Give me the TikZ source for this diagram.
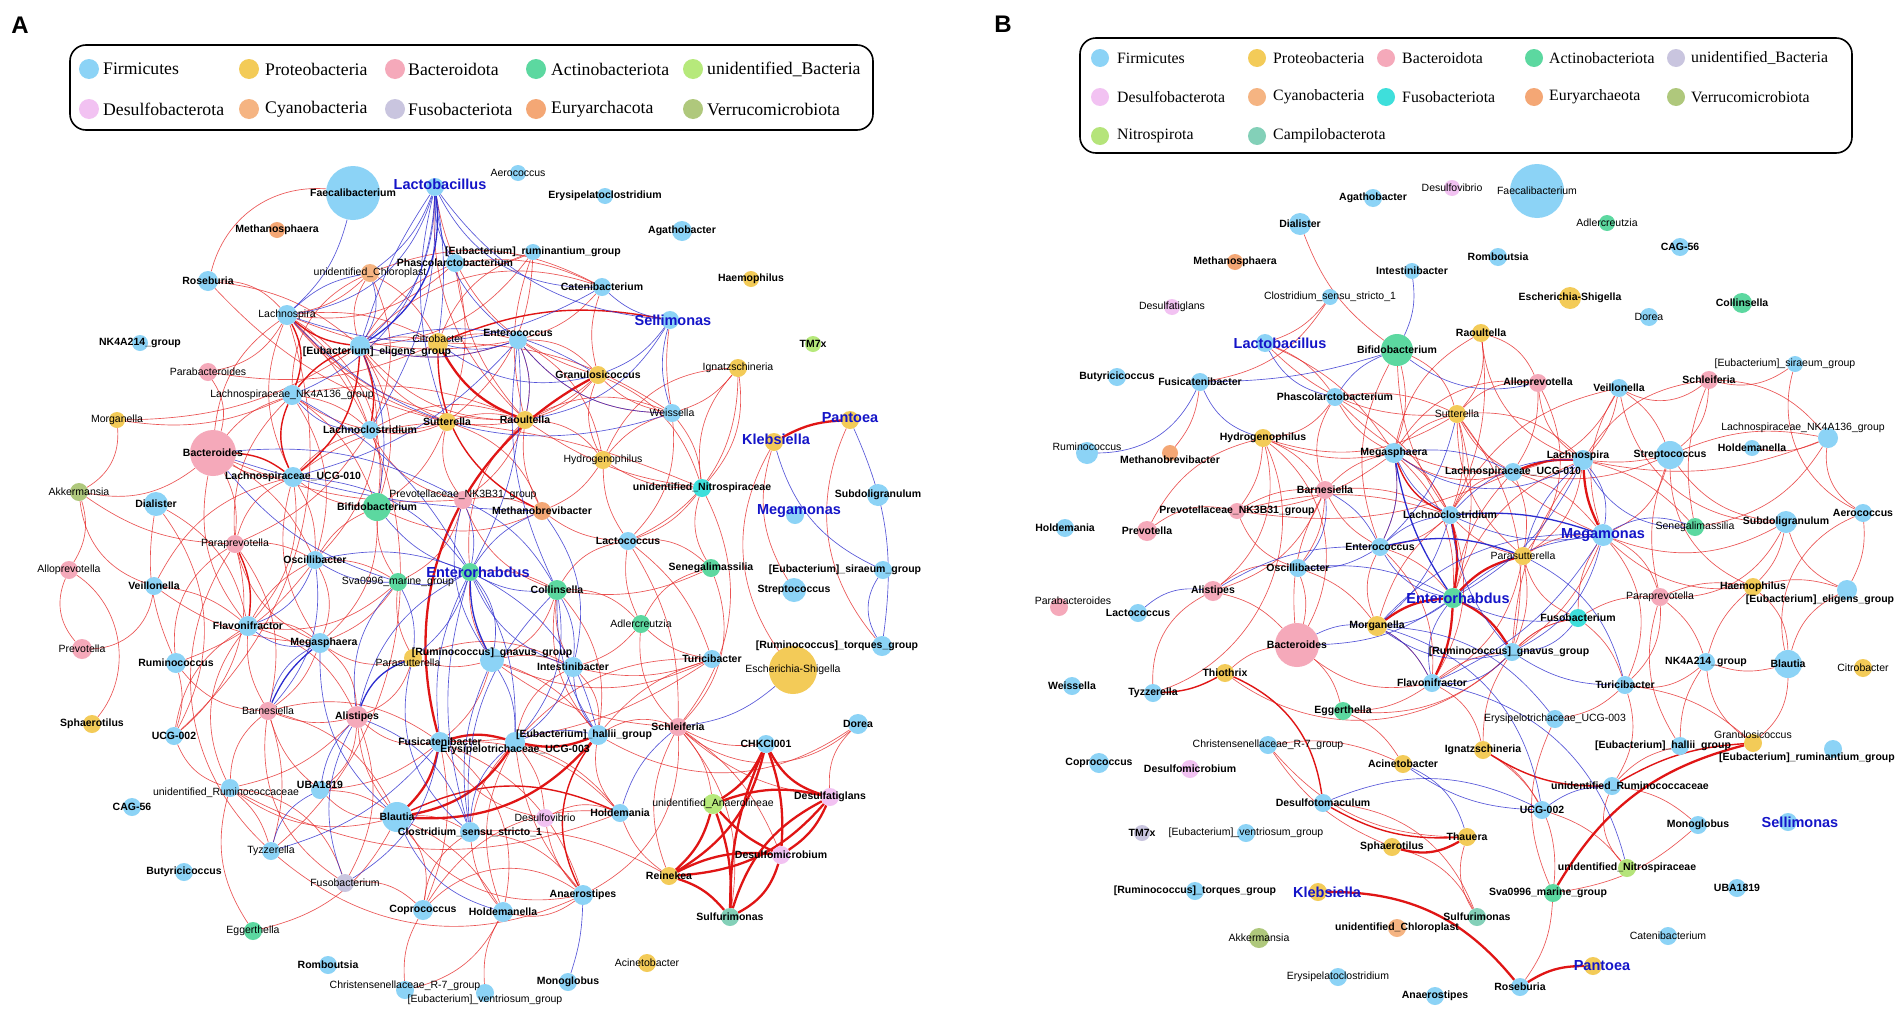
\documentclass[tikz,border=0pt]{standalone}
\usepackage{fontspec}
\setmainfont{Liberation Serif}
\newfontfamily\lsans{Liberation Sans}
\pgfdeclarelayer{bg}\pgfdeclarelayer{edges}\pgfdeclarelayer{labels}
\pgfsetlayers{bg,edges,main,labels}
\definecolor{cFir}{HTML}{8CD3F6}
\definecolor{cPro}{HTML}{F3CB58}
\definecolor{cBac}{HTML}{F5A9BA}
\definecolor{cAct}{HTML}{5CD8A0}
\definecolor{cUnb}{HTML}{B6E97B}
\definecolor{cDes}{HTML}{F2C2F2}
\definecolor{cCya}{HTML}{F5B482}
\definecolor{cFusA}{HTML}{C9C5DF}
\definecolor{cEur}{HTML}{F4A775}
\definecolor{cVer}{HTML}{AFC87C}
\definecolor{cCyan}{HTML}{3EDFDB}
\definecolor{cNit}{HTML}{B5E47A}
\definecolor{cCam}{HTML}{83D0B8}
\definecolor{cRed}{HTML}{E62A2A}
\definecolor{cRedT}{HTML}{E01515}
\definecolor{cBlue}{HTML}{2B2BCF}
\definecolor{cBlueLab}{HTML}{1414C8}
\tikzset{
 dot/.style={circle,draw=none,inner sep=0pt},
 lb/.style={font=\lsans\bfseries\fontsize{10.5}{12}\selectfont,inner sep=0pt},
 lr/.style={font=\lsans\fontsize{10.5}{12}\selectfont,inner sep=0pt},
 lblue/.style={font=\lsans\bfseries\fontsize{14.5}{16}\selectfont,text=cBlueLab,inner sep=0pt},
 er/.style={draw=cRed,line width=0.65pt,opacity=0.8},
 erm/.style={draw=cRedT,line width=1.4pt},
 ert/.style={draw=cRedT,line width=2.3pt},
 eb/.style={draw=cBlue,line width=0.65pt,opacity=0.8},
 ebm/.style={draw=cBlue,line width=1.3pt},
 legtxt/.style={font=\fontsize{17.7}{20}\selectfont,anchor=west,inner sep=0pt},
 legtxtB/.style={font=\fontsize{15.8}{18}\selectfont,anchor=west,inner sep=0pt},
 legdot/.style={circle,draw=none,inner sep=0pt,minimum size=20pt},
 legdotB/.style={circle,draw=none,inner sep=0pt,minimum size=18pt},
 legbox/.style={draw=black,line width=1.6pt,rounded corners=16pt},
 panel/.style={font=\lsans\bfseries\fontsize{24}{26}\selectfont,inner sep=0pt}
}
\newcommand{\nd}[7]{%
 \node[dot,fill=#4,minimum size=#5pt] (#1) at (#2,#3) {};
 \begin{pgfonlayer}{labels}\node[#6] (#1L) at (#2,#3) {#7};\end{pgfonlayer}}
\newcommand{\edges}[2]{\foreach \a/\b/\c in {#2}{\pgfmathsetmacro\cc{1.6*\c}\draw[#1] (\a) to[bend left=\cc] (\b);}}
\begin{document}
\begin{tikzpicture}[x=1pt,y=-1pt]
\begin{pgfonlayer}{bg}\fill[white] (0,0) rectangle (1904,1012);\end{pgfonlayer}
\useasboundingbox (0,0) rectangle (1904,1012);
\node[panel] (pA) at (20,25) {A};
\node[panel] (pB) at (1003,24) {B};
% legend A
\draw[legbox] (70,45) rectangle (873,130);
\foreach \x/\tx/\y/\c/\t [count=\i] in {
 89/103/69/cFir/Firmicutes, 249/265/69/cPro/Proteobacteria, 395/408/69/cBac/Bacteroidota, 536/551/69/cAct/Actinobacteriota, 693/707/69/cUnb/unidentified\_Bacteria,
 89/103/109/cDes/Desulfobacterota, 249/265/109/cCya/Cyanobacteria, 395/408/109/cFusA/Fusobacteriota, 536/551/109/cEur/Euryarchacota, 693/707/109/cVer/Verrucomicrobiota}
 {\node[legdot,fill=\c] (lAd\i) at (\x,\y) {}; \node[legtxt] (lAt\i) at (\tx,\y) {\t};}
% legend B
\draw[legbox] (1080,38) rectangle (1852,153);
\foreach \x/\tx/\y/\c/\t [count=\i] in {
 1100/1117/58/cFir/Firmicutes, 1257/1273/58/cPro/Proteobacteria, 1386/1402/58/cBac/Bacteroidota, 1534/1549/58/cAct/Actinobacteriota, 1676/1691/58/cFusA/unidentified\_Bacteria,
 1100/1117/97/cDes/Desulfobacterota, 1257/1273/97/cCya/Cyanobacteria, 1386/1402/97/cCyan/Fusobacteriota, 1534/1549/97/cEur/Euryarchaeota, 1676/1691/97/cVer/Verrucomicrobiota,
 1100/1117/136/cNit/Nitrospirota, 1257/1273/136/cCam/Campilobacterota}
 {\node[legdotB,fill=\c] (lBd\i) at (\x,\y) {}; \node[legtxtB] (lBt\i) at (\tx,\y) {\t};}
% ---------------- panel A nodes
\nd{aFaec}{353}{193}{cFir}{54}{lb}{Faecalibacterium}
\nd{aLact}{435}{187}{cFir}{18}{lblue,xshift=5pt,yshift=3pt}{Lactobacillus}
\nd{aAero}{518}{173}{cFir}{16}{lr}{Aerococcus}
\nd{aErys}{605}{196}{cFir}{16}{lb}{Erysipelatoclostridium}
\nd{aMsph}{277}{230}{cEur}{16}{lb}{Methanosphaera}
\nd{aAgat}{682}{231}{cFir}{20}{lb}{Agathobacter}
\nd{aRumi}{533}{252}{cFir}{16}{lb}{[Eubacterium]\_ruminantium\_group}
\nd{aPhas}{455}{263}{cFir}{18}{lb}{Phascolarctobacterium}
\nd{aChlo}{370}{273}{cCya}{18}{lr}{unidentified\_Chloroplast}
\nd{aRose}{208}{281}{cFir}{20}{lb}{Roseburia}
\nd{aCate}{602}{287}{cFir}{18}{lb}{Catenibacterium}
\nd{aHaem}{751}{279}{cPro}{16}{lb}{Haemophilus}
\nd{aLspi}{287}{315}{cFir}{20}{lr}{Lachnospira}
\nd{aSell}{670}{320}{cFir}{18}{lblue,xshift=3pt}{Sellimonas}
\nd{aCitr}{438}{343}{cPro}{20}{lr,yshift=4pt}{Citrobacter}
\nd{aEnte}{518}{340}{cFir}{18}{lb,yshift=7pt}{Enterococcus}
\nd{aNK42}{140}{343}{cFir}{16}{lb}{NK4A214\_group}
\nd{aTM7}{813}{344}{cUnb}{16}{lb}{TM7x}
\nd{aElig}{360}{346}{cFir}{20}{lb,xshift=17pt,yshift=-6pt}{[Eubacterium]\_eligens\_group}
\nd{aPara}{208}{372}{cBac}{18}{lr}{Parabacteroides}
\nd{aGran}{598}{375}{cPro}{18}{lb}{Granulosicoccus}
\nd{aIgna}{738}{368}{cPro}{18}{lr}{Ignatzschineria}
\nd{aNK41}{292}{395}{cFir}{20}{lr}{Lachnospiraceae\_NK4A136\_group}
\nd{aWeis}{672}{413}{cFir}{18}{lr}{Weissella}
\nd{aMorg}{117}{420}{cPro}{16}{lr}{Morganella}
\nd{aSutt}{447}{422}{cPro}{18}{lb}{Sutterella}
\nd{aRaou}{525}{420}{cPro}{18}{lb}{Raoultella}
\nd{aPant}{850}{420}{cPro}{18}{lblue,yshift=2pt}{Pantoea}
\nd{aLcl}{370}{430}{cFir}{18}{lb}{Lachnoclostridium}
\nd{aKleb}{774}{442}{cPro}{18}{lblue,xshift=2pt,yshift=3pt}{Klebsiella}
\nd{aBact}{213}{453}{cBac}{46}{lb}{Bacteroides}
\nd{aHydr}{603}{460}{cPro}{18}{lr}{Hydrogenophilus}
\nd{aAkke}{79}{492}{cVer}{18}{lr}{Akkermansia}
\nd{aU010}{293}{477}{cFir}{20}{lb}{Lachnospiraceae\_UCG-010}
\nd{aDial}{156}{504}{cFir}{24}{lb}{Dialister}
\nd{aNK3B}{463}{500}{cBac}{18}{lr,yshift=5pt}{Prevotellaceae\_NK3B31\_group}
\nd{aBifi}{377}{507}{cAct}{28}{lb}{Bifidobacterium}
\nd{aMbre}{542}{511}{cEur}{18}{lb}{Methanobrevibacter}
\nd{aNitr}{702}{488}{cCyan}{18}{lb}{unidentified\_Nitrospiraceae}
\nd{aSubd}{878}{495}{cFir}{22}{lb}{Subdoligranulum}
\nd{aMega}{795}{515}{cFir}{18}{lblue,xshift=4pt,yshift=4pt}{Megamonas}
\nd{aAllo}{69}{570}{cBac}{18}{lr}{Alloprevotella}
\nd{aPpre}{235}{544}{cBac}{18}{lr}{Paraprevotella}
\nd{aOsci}{315}{560}{cFir}{18}{lb}{Oscillibacter}
\nd{aEnrh}{470}{572}{cAct}{18}{lblue,xshift=8pt}{Enterorhabdus}
\nd{aLcoc}{628}{541}{cFir}{18}{lb}{Lactococcus}
\nd{aSene}{711}{568}{cAct}{18}{lb}{Senegalimassilia}
\nd{aSira}{883}{570}{cFir}{18}{lb,xshift=-38pt}{[Eubacterium]\_siraeum\_group}
\nd{aVeil}{154}{586}{cFir}{18}{lb}{Veillonella}
\nd{aSva}{398}{582}{cAct}{18}{lr}{Sva0996\_marine\_group}
\nd{aColl}{557}{590}{cAct}{20}{lb}{Collinsella}
\nd{aStre}{794}{590}{cFir}{24}{lb}{Streptococcus}
\nd{aFlav}{248}{626}{cFir}{20}{lb}{Flavonifractor}
\nd{aMsp}{320}{643}{cFir}{20}{lb,xshift=4pt}{Megasphaera}
\nd{aAdle}{641}{624}{cAct}{18}{lr}{Adlercreutzia}
\nd{aPrev}{82}{649}{cBac}{20}{lr}{Prevotella}
\nd{aRumc}{176}{663}{cFir}{20}{lb}{Ruminococcus}
\nd{aGnav}{492}{660}{cFir}{24}{lb,yshift=7pt}{[Ruminococcus]\_gnavus\_group}
\nd{aPsut}{413}{658}{cPro}{18}{lr,xshift=-5pt,yshift=-5pt}{Parasutterella}
\nd{aInte}{573}{667}{cFir}{20}{lb}{Intestinibacter}
\nd{aTuri}{712}{659}{cFir}{18}{lb}{Turicibacter}
\nd{aTorq}{882}{646}{cFir}{20}{lb,xshift=-45pt}{[Ruminococcus]\_torques\_group}
\nd{aEsch}{793}{670}{cPro}{48}{lr}{Escherichia-Shigella}
\nd{aBarn}{268}{711}{cBac}{18}{lr}{Barnesiella}
\nd{aAlis}{357}{717}{cBac}{22}{lb}{Alistipes}
\nd{aSchl}{678}{727}{cBac}{18}{lb}{Schleiferia}
\nd{aDore}{858}{724}{cFir}{20}{lb}{Dorea}
\nd{aSpha}{92}{724}{cPro}{18}{lb}{Sphaerotilus}
\nd{aU002}{174}{736}{cFir}{18}{lb}{UCG-002}
\nd{aFusi}{440}{742}{cFir}{20}{lb}{Fusicatenibacter}
\nd{aHall}{598}{735}{cFir}{20}{lb,xshift=-14pt}{[Eubacterium]\_hallii\_group}
\nd{aErUC}{515}{742}{cFir}{20}{lb,yshift=-8pt}{Erysipelotrichaceae\_UCG-003}
\nd{aCHKC}{766}{744}{cFir}{18}{lb}{CHKCI001}
\nd{aUBA}{320}{790}{cFir}{18}{lb,yshift=5pt}{UBA1819}
\nd{aURum}{230}{788}{cFir}{18}{lr,xshift=-4pt,yshift=-5pt}{unidentified\_Ruminococcaceae}
\nd{aDsul}{830}{797}{cDes}{18}{lb}{Desulfatiglans}
\nd{aCAG}{132}{807}{cFir}{18}{lb}{CAG-56}
\nd{aAnae}{713}{804}{cUnb}{20}{lr}{unidentified\_Anaerolineae}
\nd{aBlau}{397}{817}{cFir}{30}{lb}{Blautia}
\nd{aClos}{470}{832}{cFir}{20}{lb}{Clostridium\_sensu\_stricto\_1}
\nd{aDvib}{545}{818}{cDes}{18}{lr}{Desulfovibrio}
\nd{aHoldm}{620}{813}{cFir}{18}{lb}{Holdemania}
\nd{aTyzz}{271}{851}{cFir}{18}{lr}{Tyzzerella}
\nd{aDmic}{781}{855}{cDes}{18}{lb}{Desulfomicrobium}
\nd{aFuso}{345}{883}{cFusA}{18}{lr}{Fusobacterium}
\nd{aButy}{184}{872}{cFir}{18}{lb}{Butyricicoccus}
\nd{aRein}{669}{876}{cPro}{18}{lb}{Reinekea}
\nd{aAnst}{583}{895}{cFir}{20}{lb}{Anaerostipes}
\nd{aCopr}{423}{910}{cFir}{20}{lb}{Coprococcus}
\nd{aHlla}{503}{912}{cFir}{20}{lb}{Holdemanella}
\nd{aSulf}{730}{917}{cCam}{18}{lb}{Sulfurimonas}
\nd{aEgge}{253}{931}{cAct}{18}{lr}{Eggerthella}
\nd{aAcin}{647}{963}{cPro}{18}{lr}{Acinetobacter}
\nd{aRomb}{328}{965}{cFir}{18}{lb}{Romboutsia}
\nd{aMono}{568}{982}{cFir}{18}{lb}{Monoglobus}
\nd{aChri}{405}{990}{cFir}{18}{lr,yshift=4pt}{Christensenellaceae\_R-7\_group}
\nd{aVent}{485}{993}{cFir}{18}{lr,yshift=-7pt}{[Eubacterium]\_ventriosum\_group}
% ---------------- panel B nodes
\nd{bDvib}{1452}{188}{cDes}{16}{lr}{Desulfovibrio}
\nd{bAgat}{1373}{198}{cFir}{18}{lb}{Agathobacter}
\nd{bFaec}{1537}{191}{cFir}{54}{lr}{Faecalibacterium}
\nd{bDial}{1300}{224}{cFir}{22}{lb}{Dialister}
\nd{bAdle}{1607}{223}{cAct}{16}{lr}{Adlercreutzia}
\nd{bCAG}{1680}{247}{cFir}{18}{lb}{CAG-56}
\nd{bMsph}{1235}{262}{cEur}{16}{lb}{Methanosphaera}
\nd{bRomb}{1498}{257}{cFir}{18}{lb}{Romboutsia}
\nd{bInte}{1412}{271}{cFir}{16}{lb}{Intestinibacter}
\nd{bClos}{1330}{297}{cFir}{16}{lr}{Clostridium\_sensu\_stricto\_1}
\nd{bEsch}{1570}{298}{cPro}{22}{lb}{Escherichia-Shigella}
\nd{bColl}{1742}{303}{cAct}{20}{lb}{Collinsella}
\nd{bDsul}{1172}{307}{cDes}{16}{lr}{Desulfatiglans}
\nd{bDore}{1649}{317}{cFir}{18}{lr}{Dorea}
\nd{bRaou}{1481}{333}{cPro}{18}{lb}{Raoultella}
\nd{bLact}{1265}{343}{cFir}{18}{lblue,xshift=15pt}{Lactobacillus}
\nd{bBifi}{1397}{350}{cAct}{32}{lb}{Bifidobacterium}
\nd{bSira}{1795}{364}{cFir}{16}{lr,xshift=-10pt}{[Eubacterium]\_siraeum\_group}
\nd{bButy}{1117}{377}{cFir}{18}{lb}{Butyricicoccus}
\nd{bFusi}{1200}{382}{cFir}{18}{lb}{Fusicatenibacter}
\nd{bAllo}{1538}{383}{cBac}{18}{lb}{Alloprevotella}
\nd{bSchl}{1709}{380}{cBac}{18}{lb}{Schleiferia}
\nd{bVeil}{1619}{388}{cFir}{18}{lb}{Veillonella}
\nd{bPhas}{1335}{397}{cFir}{18}{lb}{Phascolarctobacterium}
\nd{bSutt}{1457}{414}{cPro}{18}{lr}{Sutterella}
\nd{bNK41}{1828}{438}{cFir}{20}{lr,xshift=-25pt,yshift=10pt}{Lachnospiraceae\_NK4A136\_group}
\nd{bHlla}{1752}{448}{cFir}{16}{lb}{Holdemanella}
\nd{bRumc}{1087}{453}{cFir}{22}{lr,yshift=6pt}{Ruminococcus}
\nd{bHydr}{1263}{438}{cPro}{18}{lb}{Hydrogenophilus}
\nd{bMbre}{1170}{453}{cEur}{16}{lb,yshift=-7pt}{Methanobrevibacter}
\nd{bMsp}{1394}{453}{cFir}{20}{lb}{Megasphaera}
\nd{bLspi}{1583}{460}{cFir}{20}{lb,xshift=-5pt,yshift=4pt}{Lachnospira}
\nd{bStre}{1670}{455}{cFir}{28}{lb}{Streptococcus}
\nd{bU010}{1513}{472}{cFir}{18}{lb}{Lachnospiraceae\_UCG-010}
\nd{bBarn}{1325}{490}{cBac}{18}{lb}{Barnesiella}
\nd{bNK3B}{1237}{511}{cBac}{16}{lb}{Prevotellaceae\_NK3B31\_group}
\nd{bLcl}{1450}{515}{cFir}{18}{lb}{Lachnoclostridium}
\nd{bMega}{1603}{535}{cFir}{22}{lblue}{Megamonas}
\nd{bSene}{1695}{527}{cAct}{18}{lr}{Senegalimassilia}
\nd{bSubd}{1786}{522}{cFir}{22}{lb}{Subdoligranulum}
\nd{bAero}{1863}{513}{cFir}{18}{lb}{Aerococcus}
\nd{bHoldm}{1065}{528}{cFir}{18}{lb}{Holdemania}
\nd{bPrev}{1147}{531}{cBac}{20}{lb}{Prevotella}
\nd{bEnte}{1380}{547}{cFir}{18}{lb}{Enterococcus}
\nd{bOsci}{1298}{568}{cFir}{18}{lb}{Oscillibacter}
\nd{bPsut}{1523}{556}{cPro}{18}{lr}{Parasutterella}
\nd{bAlis}{1213}{591}{cBac}{20}{lb}{Alistipes}
\nd{bEnrh}{1453}{598}{cAct}{20}{lblue,xshift=5pt}{Enterorhabdus}
\nd{bHaem}{1753}{587}{cPro}{18}{lb}{Haemophilus}
\nd{bPpre}{1660}{597}{cBac}{18}{lr}{Paraprevotella}
\nd{bElig}{1847}{590}{cFir}{20}{lb,xshift=-27pt,yshift=-10pt}{[Eubacterium]\_eligens\_group}
\nd{bPara}{1059}{607}{cBac}{18}{lr,xshift=14pt,yshift=6pt}{Parabacteroides}
\nd{bLcoc}{1138}{613}{cFir}{18}{lb}{Lactococcus}
\nd{bMorg}{1377}{626}{cPro}{20}{lb}{Morganella}
\nd{bFuso}{1578}{618}{cCyan}{18}{lb}{Fusobacterium}
\nd{bBact}{1297}{645}{cBac}{44}{lb}{Bacteroides}
\nd{bGnav}{1512}{652}{cFir}{18}{lb,xshift=-3pt}{[Ruminococcus]\_gnavus\_group}
\nd{bFlav}{1432}{683}{cFir}{18}{lb}{Flavonifractor}
\nd{bNK42}{1706}{662}{cFir}{18}{lb}{NK4A214\_group}
\nd{bBlau}{1788}{664}{cFir}{28}{lb}{Blautia}
\nd{bCitr}{1863}{668}{cPro}{18}{lr}{Citrobacter}
\nd{bWeis}{1072}{686}{cFir}{18}{lb}{Weissella}
\nd{bTyzz}{1153}{693}{cFir}{18}{lb}{Tyzzerella}
\nd{bThio}{1225}{673}{cPro}{18}{lb}{Thiothrix}
\nd{bTuri}{1625}{685}{cFir}{18}{lb}{Turicibacter}
\nd{bEgge}{1343}{711}{cAct}{18}{lb}{Eggerthella}
\nd{bErUC}{1555}{719}{cFir}{18}{lr}{Erysipelotrichaceae\_UCG-003}
\nd{bGran}{1753}{743}{cPro}{18}{lr,yshift=8pt}{Granulosicoccus}
\nd{bChri}{1268}{745}{cFir}{18}{lr}{Christensenellaceae\_R-7\_group}
\nd{bHall}{1680}{746}{cFir}{18}{lb,xshift=-17pt}{[Eubacterium]\_hallii\_group}
\nd{bIgna}{1483}{750}{cPro}{18}{lb}{Ignatzschineria}
\nd{bAcin}{1403}{764}{cPro}{18}{lb}{Acinetobacter}
\nd{bRumi}{1833}{749}{cFir}{18}{lb,xshift=-26pt,yshift=-9pt}{[Eubacterium]\_ruminantium\_group}
\nd{bCopr}{1099}{763}{cFir}{20}{lb}{Coprococcus}
\nd{bDmic}{1190}{769}{cDes}{18}{lb}{Desulfomicrobium}
\nd{bURum}{1612}{786}{cFir}{18}{lb,xshift=18pt}{unidentified\_Ruminococcaceae}
\nd{bDtom}{1323}{803}{cFir}{18}{lb}{Desulfotomaculum}
\nd{bU002}{1542}{810}{cFir}{18}{lb}{UCG-002}
\nd{bSell}{1788}{822}{cFir}{18}{lblue,xshift=12pt}{Sellimonas}
\nd{bMono}{1698}{825}{cFir}{18}{lb}{Monoglobus}
\nd{bTM7}{1142}{833}{cFusA}{16}{lb}{TM7x}
\nd{bVent}{1246}{833}{cFir}{18}{lr}{[Eubacterium]\_ventriosum\_group}
\nd{bThau}{1467}{837}{cPro}{18}{lb}{Thauera}
\nd{bSpha}{1392}{847}{cPro}{18}{lb}{Sphaerotilus}
\nd{bNitr}{1627}{868}{cNit}{18}{lb}{unidentified\_Nitrospiraceae}
\nd{bTorq}{1195}{891}{cFir}{18}{lb}{[Ruminococcus]\_torques\_group}
\nd{bKleb}{1318}{892}{cPro}{18}{lblue,xshift=9pt}{Klebsiella}
\nd{bSva}{1553}{893}{cAct}{18}{lb,xshift=-5pt}{Sva0996\_marine\_group}
\nd{bUBA}{1737}{888}{cFir}{18}{lb}{UBA1819}
\nd{bSulf}{1477}{917}{cCam}{18}{lb}{Sulfurimonas}
\nd{bChlo}{1397}{928}{cCya}{18}{lb}{unidentified\_Chloroplast}
\nd{bAkke}{1259}{938}{cVer}{20}{lr}{Akkermansia}
\nd{bCate}{1668}{936}{cFir}{18}{lr}{Catenibacterium}
\nd{bErys}{1338}{977}{cFir}{18}{lr}{Erysipelatoclostridium}
\nd{bPant}{1593}{966}{cPro}{18}{lblue,xshift=9pt}{Pantoea}
\nd{bRose}{1520}{987}{cFir}{18}{lb}{Roseburia}
\nd{bAnst}{1435}{996}{cFir}{18}{lb}{Anaerostipes}
% ---------------- edges
\begin{pgfonlayer}{edges}
% A red thin
\edges{er}{
aFaec/aRose/-25, aRose/aLspi/15, aRose/aSutt/-10, aRose/aElig/10, aPara/aLspi/-15, aPara/aCitr/-10, aPara/aBact/15,
aMorg/aAkke/20, aMorg/aNK41/-10, aMorg/aElig/-10, aAkke/aBact/-15, aAkke/aAllo/15, aAkke/aVeil/-20, aAkke/aPpre/-10,
aAllo/aSpha/30, aPrev/aVeil/-25, aPrev/aAllo/20, aDial/aFlav/15, aDial/aRumc/-10, aDial/aU002/20,
aBact/aPpre/10, aBact/aU010/-10, aBact/aNK3B/-8, aBact/aLspi/15, aBact/aOsci/10, aBact/aFlav/-15, aBact/aNK41/10,
aVeil/aFlav/10, aVeil/aMsp/-10, aVeil/aU010/15, aRumc/aBarn/-15, aRumc/aPpre/20, aRumc/aU002/10, aRumc/aOsci/-10,
aU002/aPpre/-20, aU002/aFlav/15, aU002/aURum/-15, aU002/aLspi/-20, aURum/aFlav/20, aURum/aTyzz/10, aURum/aBlau/-15,
aURum/aBarn/15, aURum/aAlis/-10, aURum/aFuso/20, aURum/aHoldm/-15, aTyzz/aPpre/25, aTyzz/aLspi/-30, aTyzz/aAnst/-20,
aTyzz/aBarn/-10, aEgge/aURum/15, aEgge/aBlau/-15, aFuso/aBarn/20, aFuso/aAlis/-15, aFuso/aCopr/15,
aBlau/aAnst/-20, aBlau/aCopr/15, aBlau/aHlla/10, aBlau/aAlis/10, aBlau/aBarn/-15, aBlau/aClos/10, aBlau/aUBA/15,
aClos/aAnst/15, aClos/aCopr/-15, aClos/aErUC/10, aClos/aHlla/-10, aHoldm/aCopr/-20, aHoldm/aHall/15, aHoldm/aErUC/-10,
aHoldm/aFusi/-15, aAnst/aCopr/-25, aAnst/aHlla/15, aAnst/aDvib/10, aAnst/aErUC/10, aAnst/aSchl/-20, aAnst/aFusi/-15,
aChri/aHlla/-15, aVent/aHlla/10, aChri/aCopr/10, aCopr/aFusi/-10, aHlla/aErUC/15, aHlla/aFusi/-20, aDvib/aErUC/-10,
aDvib/aHoldm/15, aDvib/aFusi/15, aHall/aInte/-15, aHall/aTuri/10, aHall/aSchl/15, aHall/aGnav/-10, aHall/aColl/15,
aTuri/aLcoc/-10, aTuri/aGnav/15, aTuri/aErUC/-15, aTuri/aInte/10, aTuri/aFusi/10,
aSchl/aLcoc/-10, aSchl/aAdle/15, aSchl/aCHKC/-10, aSchl/aAnae/10, aSchl/aRein/-15, aSchl/aSulf/15, aSchl/aDsul/-10,
aSchl/aDmic/10, aSchl/aDore/-25, aSchl/aSene/-20, aSchl/aGnav/10, aDore/aDsul/-15, aDore/aHall/20, aRein/aClos/-10,
aRein/aHoldm/10, aAdle/aLcoc/10, aAdle/aColl/-15, aAdle/aSene/15, aAdle/aInte/10, aAdle/aTuri/-10, aSene/aLcoc/-15,
aSene/aNitr/15, aSene/aColl/10, aLcoc/aHydr/10, aLcoc/aWeis/-15, aLcoc/aMbre/10, aLcoc/aColl/-15, aLcoc/aNitr/-10,
aNitr/aIgna/15, aNitr/aIgna/-15, aNitr/aWeis/-10, aNitr/aHydr/10, aNitr/aGran/-15, aNitr/aSchl/20, aNitr/aRaou/8,
aNitr/aSutt/-5, aIgna/aHydr/-20, aIgna/aLcoc/20, aIgna/aWeis/10, aWeis/aSell/5, aWeis/aRaou/-15, aWeis/aGran/10,
aWeis/aHydr/-10, aWeis/aEnte/15, aWeis/aCitr/-10, aGran/aRaou/10, aGran/aEnte/-15, aGran/aCate/10, aGran/aHydr/-15,
aGran/aSutt/15, aCate/aPhas/-10, aCate/aChlo/-15, aCate/aEnte/10, aCate/aElig/-20, aRumi/aPhas/10, aRumi/aCitr/-15,
aRumi/aSutt/15, aRumi/aRaou/-10, aRumi/aElig/15, aLact/aRaou/-15, aLact/aGran/-20, aPhas/aRaou/-10, aPhas/aLspi/15,
aPhas/aSutt/10, aPhas/aElig/-10, aChlo/aLspi/10, aChlo/aElig/-15, aChlo/aCitr/10, aChlo/aLcl/15, aChlo/aNK41/-20,
aLspi/aLcl/10, aLspi/aU010/-15, aLspi/aCitr/10, aLspi/aSutt/-10, aLspi/aRaou/-15, aLspi/aBifi/20, aLspi/aEnte/-10,
aElig/aCitr/10, aElig/aSutt/-10, aElig/aRaou/-15, aElig/aBifi/15, aElig/aOsci/20, aElig/aEnte/-10, aNK41/aLcl/10,
aNK41/aPpre/-15, aNK41/aSutt/-15, aNK41/aBifi/10, aNK41/aOsci/15, aNK41/aRaou/10, aLcl/aU010/-10, aLcl/aSutt/-10,
aLcl/aRaou/15, aLcl/aBifi/10, aLcl/aNK3B/-15, aLcl/aPpre/10, aU010/aPpre/-15, aU010/aOsci/10, aU010/aFlav/15,
aU010/aBifi/-10, aU010/aMsp/-15, aU010/aSutt/10, aSutt/aRaou/10, aSutt/aNK3B/-15, aSutt/aBifi/10, aSutt/aMbre/15,
aRaou/aNK3B/10, aRaou/aMbre/-10, aRaou/aHydr/15, aRaou/aEnrh/-15, aNK3B/aMbre/10, aNK3B/aColl/-15, aNK3B/aSva/15,
aBifi/aOsci/-10, aBifi/aMsp/15, aBifi/aSva/-10, aBifi/aMbre/-15, aPpre/aOsci/10, aPpre/aMsp/-15, aPpre/aBarn/15,
aOsci/aFlav/-10, aOsci/aMsp/15, aOsci/aSva/10, aFlav/aMsp/15, aFlav/aBarn/-10, aFlav/aAlis/15, aFlav/aSva/-15,
aMsp/aBarn/10, aMsp/aPsut/-15, aMsp/aAlis/15, aMsp/aSva/-10, aPsut/aSva/10, aPsut/aGnav/-10, aPsut/aAlis/15,
aPsut/aInte/15, aGnav/aInte/10, aGnav/aColl/-15, aGnav/aEnrh/10, aInte/aColl/10, aInte/aErUC/-15, aColl/aEnrh/-10,
aColl/aHall/15, aAlis/aBarn/10, aAlis/aFusi/-15, aAlis/aUBA/15, aBarn/aUBA/-10, aBarn/aFusi/15, aUBA/aFusi/-10,
aUBA/aBlau/10, aFusi/aGnav/-10, aKleb/aStre/-15, aKleb/aEsch/-20, aPant/aTorq/-20, aHydr/aMbre/10, aHydr/aEnte/-15,
aEnte/aRaou/10, aEnte/aCitr/-10}
\edges{erm}{aSell/aCitr/-10, aLspi/aElig/-10, aLspi/aNK41/15, aElig/aNK41/-10, aElig/aLcl/10, aElig/aU010/15,
 aNK41/aU010/-15, aPpre/aFlav/10, aCitr/aMbre/-20, aBlau/aHoldm/15, aAnst/aHall/20, aBact/aU010/10}
\edges{ert}{aGran/aFusi/-24, aCitr/aRaou/-12, aKleb/aPant/8, aBlau/aErUC/-14, aBlau/aHall/-16, aBlau/aFusi/-10,
 aFusi/aErUC/10, aErUC/aHall/-10,
 aCHKC/aDsul/-14, aCHKC/aAnae/10, aCHKC/aDmic/7, aCHKC/aRein/14, aCHKC/aSulf/-7, aDsul/aAnae/-10, aDsul/aDmic/10,
 aDsul/aRein/14, aDsul/aSulf/-14, aAnae/aDmic/-7, aAnae/aRein/10, aAnae/aSulf/7, aDmic/aRein/-10, aDmic/aSulf/14, aRein/aSulf/10}
% A blue
\edges{eb}{
aLact/aLspi/20, aFaec/aLspi/10, aLact/aChlo/10, aLact/aElig/15, aLact/aElig/-5, aLact/aPhas/-10, aLact/aCitr/5,
aLact/aSutt/-10, aLact/aLcl/10, aLact/aEnte/-15, aLact/aNK41/20, aLact/aCate/-20, aLact/aSell/-15, aSell/aGran/10,
aSell/aRaou/15, aCate/aSell/-10, aEnte/aCitr/10, aEnte/aWeis/-15, aEnte/aRaou/10, aEnte/aColl/-10, aEnte/aEnrh/10,
aChlo/aElig/15, aChlo/aLspi/-10, aElig/aEnte/-10, aElig/aGran/15, aElig/aBifi/10, aLspi/aCate/-15, aLspi/aWeis/-20,
aNK41/aLcl/-15, aNK41/aEnrh/10, aBact/aNK3B/10, aBact/aSva/-10, aBact/aMbre/-5, aU010/aEnte/-10, aU010/aEnrh/15,
aBifi/aEnrh/-10, aNK3B/aEnrh/10, aNK3B/aGnav/-15, aNK3B/aColl/10, aMbre/aEnrh/-10, aMbre/aInte/15, aEnrh/aSva/10,
aEnrh/aColl/-10, aEnrh/aGnav/15, aEnrh/aInte/-15, aEnrh/aPsut/10, aEnrh/aAlis/-15, aEnrh/aErUC/10, aEnrh/aFusi/-10,
aEnrh/aHall/15, aEnrh/aClos/-10, aColl/aHall/-10, aColl/aErUC/15, aColl/aClos/-15, aColl/aInte/10, aOsci/aFlav/15,
aOsci/aSva/-10, aOsci/aEnrh/10, aFlav/aMsp/-15, aBarn/aMsp/15, aBarn/aOsci/-15, aMsp/aBlau/-15, aSva/aAlis/-15,
aSva/aPsut/10, aPsut/aClos/-20, aAlis/aFuso/-15, aFusi/aFuso/15, aAlis/aClos/15, aGnav/aClos/-10, aGnav/aErUC/10,
aInte/aHall/-10, aTyzz/aUBA/15, aTyzz/aFusi/-10, aUBA/aAlis/10, aBlau/aHlla/-15, aHoldm/aSchl/10, aSchl/aEsch/-10,
aAnst/aMono/5, aKleb/aSira/-15, aPant/aTorq/10, aSira/aTorq/-20, aWeis/aSell/10, aGran/aCitr/15, aInte/aErUC/10,
aHall/aErUC/-10, aClos/aErUC/15}
\edges{ebm}{aLact/aElig/20, aEnrh/aGnav/-8, aPsut/aAlis/-15, aMsp/aBarn/-8}
% B red thin
\edges{er}{
bDial/bBifi/-10, bFusi/bMbre/10, bFusi/bClos/-15, bLact/bClos/-10, bLact/bPhas/10, bLact/bSutt/-15, bLact/bMsp/10,
bRaou/bSutt/15, bRaou/bMsp/-15, bRaou/bLspi/-20, bRaou/bAllo/15, bRaou/bLcl/10, bBifi/bMsp/10, bBifi/bLcl/-10,
bBifi/bSutt/15, bBifi/bEnte/-15, bAllo/bLspi/-15, bAllo/bU010/10, bAllo/bSutt/-15, bAllo/bPsut/20, bAllo/bMsp/-20,
bVeil/bLspi/10, bVeil/bMega/-15, bVeil/bSubd/-25, bVeil/bU010/15, bVeil/bStre/10, bVeil/bLcl/-15, bSchl/bStre/15,
bSchl/bVeil/20, bSchl/bSene/-10, bSchl/bLspi/-15, bSira/bAero/-25, bSira/bSchl/15, bNK41/bAero/-20, bNK41/bHlla/10,
bNK41/bStre/-10, bNK41/bSene/15, bNK41/bLspi/10, bNK41/bSchl/-15, bStre/bLspi/5, bStre/bSubd/-15, bStre/bMega/15,
bStre/bPpre/-10, bStre/bHaem/-20, bStre/bU010/10, bSubd/bMega/15, bSubd/bElig/-15, bSubd/bHaem/10, bSubd/bPpre/20,
bAero/bElig/10, bAero/bBlau/-25, bPhas/bSutt/10, bPhas/bMsp/-10, bPhas/bHydr/15, bPhas/bBarn/-15, bPhas/bU010/-15,
bPhas/bLcl/10, bHydr/bNK3B/10, bHydr/bMsp/-10, bHydr/bAlis/20, bHydr/bBarn/10, bHydr/bBact/25, bHydr/bPrev/-15,
bHydr/bSutt/-15, bPrev/bNK3B/15, bNK3B/bMsp/-10, bNK3B/bBarn/10, bNK3B/bOsci/-15, bNK3B/bLcl/10, bNK3B/bU010/-10,
bMsp/bLcl/10, bMsp/bU010/-15, bMsp/bEnte/10, bMsp/bBarn/-10, bMsp/bSutt/10, bMsp/bEnrh/15, bSutt/bLcl/10,
bSutt/bU010/-10, bSutt/bLspi/15, bSutt/bPsut/-15, bSutt/bEnrh/10, bSutt/bMega/-10, bSutt/bGnav/15, bU010/bMega/10,
bU010/bLcl/-15, bU010/bPsut/10, bU010/bEnrh/-10, bLspi/bPsut/15, bLspi/bEnrh/-15, bLspi/bSene/10, bLspi/bGnav/-10,
bMega/bPpre/15, bMega/bFuso/-10, bMega/bGnav/10, bMega/bHaem/-15, bMega/bTuri/20, bMega/bPsut/-10, bLcl/bEnte/10,
bLcl/bPsut/-10, bLcl/bFlav/15, bLcl/bMorg/-10, bBarn/bOsci/10, bBarn/bEnte/-10, bBarn/bAlis/15, bBarn/bBact/-10,
bBarn/bLcl/10, bEnte/bEnrh/10, bEnte/bMorg/-15, bEnte/bFlav/15, bOsci/bBact/10, bOsci/bAlis/-15, bOsci/bMorg/10,
bPsut/bGnav/10, bPsut/bFuso/-15, bPsut/bFlav/15, bMorg/bFlav/10, bGnav/bFlav/-10, bGnav/bEgge/15, bGnav/bFuso/10,
bAlis/bBact/10, bTyzz/bHydr/-30, bTyzz/bAlis/20, bThio/bBact/10, bThio/bGnav/-25, bBact/bEgge/10, bBact/bFlav/-15,
bEgge/bAcin/10, bEgge/bFlav/-10, bFlav/bIgna/15, bIgna/bSva/20, bIgna/bGnav/10, bChri/bSpha/-10, bChri/bThau/-15,
bChri/bAcin/10, bDtom/bSulf/20, bSpha/bSulf/15, bThau/bSulf/-15, bRose/bSva/-10, bGran/bBlau/-15, bGran/bNK42/15,
bGran/bTuri/-10, bURum/bNitr/-20, bURum/bHall/10, bMono/bSva/10, bMono/bURum/-10, bPpre/bHall/-15, bPpre/bNK42/10,
bPpre/bTuri/15, bPpre/bFuso/-10, bPpre/bHaem/10, bHaem/bBlau/15, bHaem/bNK42/-10, bHaem/bElig/10, bElig/bBlau/-15,
bTuri/bNK42/-15, bTuri/bErUC/10, bTuri/bURum/15, bTuri/bFuso/-10, bErUC/bSva/-15, bU002/bNitr/10, bFuso/bGnav/-10,
bNK42/bHall/-10, bBlau/bNK42/10, bIgna/bU002/10}
\edges{erm}{bIgna/bURum/-10, bGran/bURum/-8, bTyzz/bThio/-8, bThio/bDtom/18, bDtom/bThau/-10, bMsp/bLcl/-14}
\edges{ert}{bKleb/bRose/16, bRose/bPant/10, bGran/bSva/-14, bSpha/bThau/-14, bEnrh/bMorg/-10, bEnrh/bGnav/10,
 bEnrh/bFlav/7, bLcl/bEnrh/7, bU010/bLspi/7, bLspi/bMega/-7, bPsut/bEnrh/-10}
% B blue
\edges{eb}{
bInte/bBifi/10, bFusi/bRumc/20, bFusi/bHydr/-15, bFusi/bBifi/-5, bBifi/bPhas/-10, bBifi/bAllo/-15, bLact/bPhas/-15,
bMsp/bEnte/10, bMsp/bLcl/-10, bMsp/bLspi/-20, bMsp/bU010/10, bLcl/bEnte/-10, bLcl/bLspi/15, bLcl/bMega/-10,
bLcl/bMorg/10, bLcl/bGnav/-10, bEnte/bEnrh/-15, bEnte/bOsci/10, bEnte/bBarn/-10, bOsci/bEnrh/10, bOsci/bBarn/-15,
bLspi/bEnrh/10, bLspi/bMega/15, bLspi/bPsut/-10, bLspi/bSene/-20, bMega/bSene/15, bMega/bEnrh/-10, bMega/bGnav/15,
bMega/bMorg/-15, bMega/bFlav/10, bEnrh/bMorg/10, bEnrh/bFlav/-15, bEnrh/bBact/10, bEnrh/bFuso/-10, bMorg/bBact/-10,
bMorg/bGnav/-15, bMorg/bFlav/10, bMorg/bErUC/15, bMorg/bU002/20, bAlis/bLcoc/-15, bAlis/bEnte/10, bGnav/bTuri/-10,
bGnav/bFlav/15, bGnav/bFuso/-15, bAcin/bThau/15, bAcin/bU002/-10, bU002/bDtom/-15, bU002/bURum/10, bNitr/bFlav/-20,
bSutt/bEnte/10, bPsut/bTuri/15}
\edges{ebm}{bEnte/bPsut/10, bLcl/bMega/7, bMsp/bEnrh/-7}
\end{pgfonlayer}
\end{tikzpicture}
\end{document}
